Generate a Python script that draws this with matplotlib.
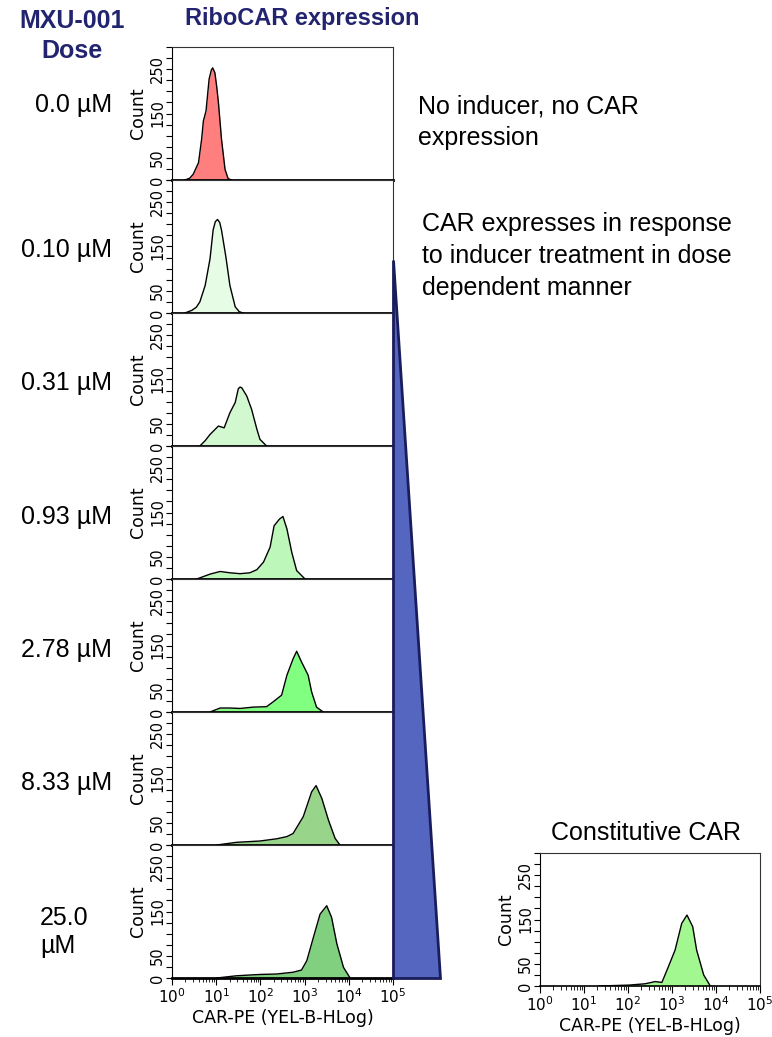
import numpy as np
import matplotlib
matplotlib.use('Agg')
import matplotlib.pyplot as plt
from matplotlib.patches import Polygon
from matplotlib.ticker import FixedLocator, LogLocator, NullFormatter

# dose labels and histogram traces (x as log10 of CAR-PE, y as count)
DOSES = ["0.0 µM", "0.10 µM", "0.31 µM", "0.93 µM", "2.78 µM", "8.33 µM", "25.0\nµM"]
COLORS = ["#FF7F7F", "#E6FCE4", "#D2F8D0", "#BDF7B9", "#80FF80", "#98D48A", "#80D080"]

LOGX_0 = [0.29, 0.40, 0.48, 0.60, 0.67, 0.71, 0.77, 0.84, 0.89, 0.92, 0.97, 1.01, 1.05, 1.12, 1.20, 1.27, 1.35]
CNT_0 = [0, 4, 13, 39, 92, 133, 156, 228, 248, 253, 242, 212, 175, 92, 24, 3, 0]

LOGX_1 = [0.29, 0.45, 0.55, 0.63, 0.75, 0.86, 0.93, 0.98, 1.03, 1.08, 1.12, 1.22, 1.31, 1.43, 1.52, 1.61]
CNT_1 = [0, 6, 13, 25, 62, 122, 187, 206, 211, 204, 187, 126, 62, 14, 3, 0]

LOGX_2 = [0.63, 0.75, 0.86, 1.05, 1.18, 1.31, 1.43, 1.50, 1.54, 1.58, 1.69, 1.80, 1.92, 1.99, 2.14]
CNT_2 = [0, 12, 26, 45, 41, 75, 98, 129, 133, 131, 113, 83, 38, 15, 0]

LOGX_3 = [0.56, 0.86, 1.09, 1.31, 1.54, 1.76, 1.92, 2.07, 2.22, 2.31, 2.43, 2.51, 2.60, 2.71, 2.82, 3.01]
CNT_3 = [0, 11, 17, 14, 12, 14, 21, 38, 72, 120, 135, 141, 113, 60, 19, 0]

LOGX_4 = [0.86, 1.09, 1.31, 1.54, 1.84, 2.14, 2.29, 2.48, 2.60, 2.74, 2.82, 2.93, 3.08, 3.16, 3.27, 3.42]
CNT_4 = [0, 9, 9, 8, 11, 12, 23, 38, 83, 120, 137, 113, 83, 45, 11, 0]

LOGX_5 = [1.01, 1.46, 1.99, 2.37, 2.60, 2.74, 2.97, 3.16, 3.26, 3.39, 3.54, 3.69, 3.80]
CNT_5 = [0, 6, 9, 14, 19, 26, 64, 120, 134, 105, 56, 15, 0]

LOGX_6 = [1.01, 1.46, 1.99, 2.37, 2.74, 2.93, 3.05, 3.20, 3.35, 3.50, 3.61, 3.73, 3.88, 4.03]
CNT_6 = [0, 5, 8, 9, 13, 18, 39, 92, 144, 163, 137, 77, 24, 0]

LOGX_CONST = [1.34, 2.02, 2.39, 2.62, 2.77, 2.92, 3.07, 3.22, 3.34, 3.47, 3.56, 3.72, 3.87]
CNT_CONST = [0, 2, 5, 10, 8, 44, 81, 141, 160, 134, 81, 25, 0]

TRACES = [(LOGX_0, CNT_0), (LOGX_1, CNT_1), (LOGX_2, CNT_2), (LOGX_3, CNT_3),
          (LOGX_4, CNT_4), (LOGX_5, CNT_5), (LOGX_6, CNT_6)]

NAVY = "#232470"
TXT_FONT = ["Liberation Sans", "DejaVu Sans"]

W, H = 772, 1037
fig = plt.figure(figsize=(W / 100, H / 100), dpi=100)


def px_axes(left, top, width, height):
    return fig.add_axes([left / W, 1 - (top + height) / H, width / W, height / H])


def style_hist(ax, bottom_panel):
    ax.set_xscale('log')
    ax.set_xlim(1, 1e5)
    ax.set_ylim(0, 300)
    ax.yaxis.set_major_locator(FixedLocator([0, 50, 150, 250]))
    ax.yaxis.set_minor_locator(FixedLocator(np.arange(0, 301, 25)))
    ax.tick_params(axis='y', which='major', labelsize=10.5, length=4, width=0.8,
                   labelrotation=90, pad=1)
    ax.tick_params(axis='y', which='minor', length=4, width=0.8)
    for t in ax.get_yticklabels():
        t.set_va('center')
    ax.set_ylabel("Count", fontsize=12.5, labelpad=2)
    for s in ['top', 'right', 'left']:
        ax.spines[s].set_linewidth(0.8)
        ax.spines[s].set_color('#333333')
    ax.spines['left'].set_color('black')
    ax.spines['bottom'].set_linewidth(2.0)
    if bottom_panel:
        ax.xaxis.set_major_locator(LogLocator(base=10, numticks=10))
        ax.xaxis.set_minor_locator(LogLocator(base=10, subs=np.arange(2, 10), numticks=20))
        ax.xaxis.set_minor_formatter(NullFormatter())
        ax.tick_params(axis='x', which='major', labelsize=11, length=5, width=0.8, pad=2)
        ax.tick_params(axis='x', which='minor', length=3, width=0.6)
        ax.set_xlabel("CAR-PE (YEL-B-HLog)", fontsize=12.5, labelpad=2)
    else:
        ax.tick_params(axis='x', which='both', bottom=False, labelbottom=False)


def draw_hist(ax, logx, cnt, color):
    x = 10 ** np.array(logx)
    ax.fill_between(x, cnt, 0, color=color, linewidth=0, zorder=2)
    ax.plot(x, cnt, color='black', linewidth=1.0, zorder=3)


LEFT, TOP, PW, PH = 172, 47, 221, 133
axes = []
for i, (trace, color) in enumerate(zip(TRACES, COLORS)):
    ax = px_axes(LEFT, TOP + PH * i, PW, PH)
    draw_hist(ax, trace[0], trace[1], color)
    style_hist(ax, i == len(TRACES) - 1)
    axes.append(ax)

# dose labels
label_y = [105, 250, 383, 517, 650, 783]
for lab, y in zip(DOSES[:-1], label_y):
    fig.text(112 / W, 1 - y / H, lab, ha='right', va='center', fontsize=18,
             family=TXT_FONT)
fig.text(40 / W, 1 - 932 / H, DOSES[-1], ha='left', va='center', fontsize=18,
         family=TXT_FONT, linespacing=1.25)

# headers
fig.text(72 / W, 1 - 36 / H, "MXU-001\nDose", ha='center', va='center', fontsize=18,
         fontweight='bold', color=NAVY, family=TXT_FONT, linespacing=1.35)
fig.text(302 / W, 1 - 18 / H, "RiboCAR expression", ha='center', va='center',
         fontsize=17, fontweight='bold', color=NAVY, family=TXT_FONT)

# annotations
fig.text(418 / W, 1 - 122 / H, "No inducer, no CAR\nexpression", ha='left',
         va='center', fontsize=18, family=TXT_FONT, linespacing=1.4)
fig.text(422 / W, 1 - 256 / H,
         "CAR expresses in response\nto inducer treatment in dose\ndependent manner",
         ha='left', va='center', fontsize=18, family=TXT_FONT, linespacing=1.4)

# dose wedge
bot = axes[-1].get_position()
x0 = bot.x1
wedge = Polygon([[x0, 1 - 260 / H], [x0, bot.y0], [440 / W, bot.y0]], closed=True,
                facecolor="#5566C0", edgecolor="#1A1D5C", linewidth=2,
                transform=fig.transFigure, zorder=5)
fig.add_artist(wedge)

# constitutive panel
axc = px_axes(540, 853, 220, 133)
draw_hist(axc, LOGX_CONST, CNT_CONST, "#A2F791")
style_hist(axc, True)
axc.spines['bottom'].set_linewidth(1.2)
fig.text(646 / W, 1 - 833 / H, "Constitutive CAR", ha='center', va='center',
         fontsize=18, family=TXT_FONT)

fig.savefig("out.png", dpi=100)
